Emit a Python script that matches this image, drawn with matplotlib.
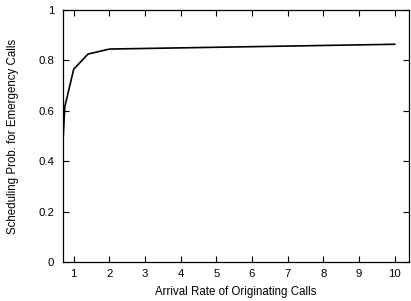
import matplotlib
matplotlib.use("Agg")
import matplotlib.pyplot as plt

x_rate = [0.7, 0.75, 1.0, 1.4, 2.0, 10.0]
y_prob = [0.48, 0.616, 0.765, 0.825, 0.845, 0.864]
x_ticks = [1, 2, 3, 4, 5, 6, 7, 8, 9, 10]
y_ticks = [0, 0.2, 0.4, 0.6, 0.8, 1]
y_tick_labels = ["0", "0.2", "0.4", "0.6", "0.8", "1"]

plt.rcParams['font.family'] = ['Liberation Sans', 'DejaVu Sans']
fig = plt.figure(figsize=(4.11, 3.01), dpi=100)
ax = fig.add_axes([63/411, 1-262/301, (409-63)/411, (262-10)/301])
ax.plot(x_rate, y_prob, color='black', linewidth=1.2)
ax.set_xlim(0.7, 10.4)
ax.set_ylim(0, 1)
ax.set_xticks(x_ticks)
ax.set_yticks(y_ticks)
ax.set_yticklabels(y_tick_labels)
ax.tick_params(direction='in', length=4, width=0.8, top=True, right=True, labelsize=8.2)
ax.tick_params(axis='y', pad=6.5)
ax.tick_params(axis='x', pad=5)
ax.set_xlabel("Arrival Rate of Originating Calls", fontsize=8.3, labelpad=5)
ax.set_ylabel("Scheduling Prob. for Emergency Calls", fontsize=8.3, labelpad=14)
for s in ax.spines.values():
    s.set_linewidth(0.9)
fig.savefig("out.png", dpi=100)
